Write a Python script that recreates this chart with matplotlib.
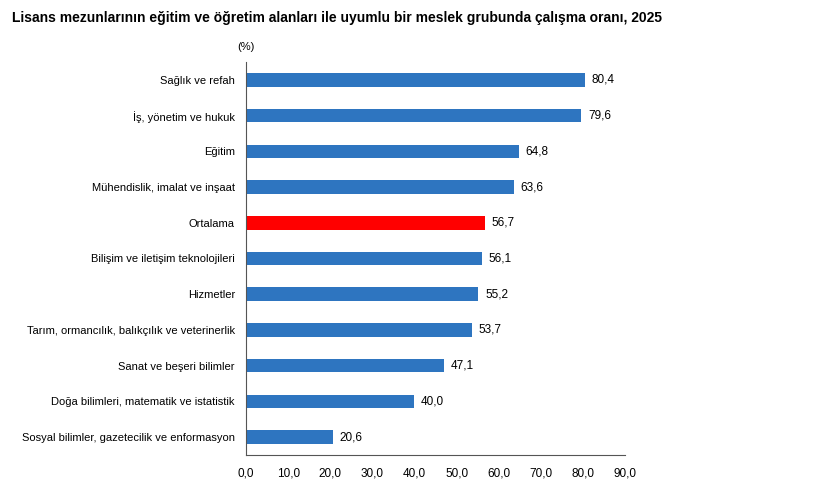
import matplotlib.pyplot as plt

categories = ["Sağlık ve refah", "İş, yönetim ve hukuk", "Eğitim", "Mühendislik, imalat ve inşaat",
              "Ortalama", "Bilişim ve iletişim teknolojileri", "Hizmetler",
              "Tarım, ormancılık, balıkçılık ve veterinerlik", "Sanat ve beşeri bilimler",
              "Doğa bilimleri, matematik ve istatistik", "Sosyal bilimler, gazetecilik ve enformasyon"]
values = [80.4, 79.6, 64.8, 63.6, 56.7, 56.1, 55.2, 53.7, 47.1, 40.0, 20.6]
xticks = [0, 10, 20, 30, 40, 50, 60, 70, 80, 90]

plt.rcParams['font.family'] = ['Liberation Sans', 'DejaVu Sans']
fig = plt.figure(figsize=(8.2, 4.96), dpi=100)
ax = fig.add_axes([246/820, 1-455/496, (625-246)/820, (455-62)/496])
colors = ['#ff0000' if c == "Ortalama" else '#2e75c0' for c in categories]
y = list(range(len(categories)))
ax.barh(y, values, height=0.38, color=colors)
ax.set_ylim(len(categories)-0.5, -0.5)
ax.set_xlim(0, 90)
ax.set_xticks(xticks)
ax.set_xticklabels([f"{v:.1f}".replace('.', ',') for v in xticks], fontsize=8.5)
ax.set_yticks(y)
ax.set_yticklabels(categories, fontsize=8)
ax.tick_params(length=0, pad=8)
ax.tick_params(axis='x', pad=9)
for s in ['top', 'right']:
    ax.spines[s].set_visible(False)
for s in ['left', 'bottom']:
    ax.spines[s].set_color('#555555')
for yi, v in zip(y, values):
    ax.text(v + 1.6, yi, f"{v:.1f}".replace('.', ','), va='center', ha='left', fontsize=8.5)
fig.text(12/820, 1-18/496, "Lisans mezunlarının eğitim ve öğretim alanları ile uyumlu bir meslek grubunda çalışma oranı, 2025",
         fontsize=10, fontweight='bold', va='center', ha='left')
fig.text(246/820, 1-47/496, "(%)", fontsize=8, ha='center', va='center')
fig.savefig('out.png', dpi=100)
